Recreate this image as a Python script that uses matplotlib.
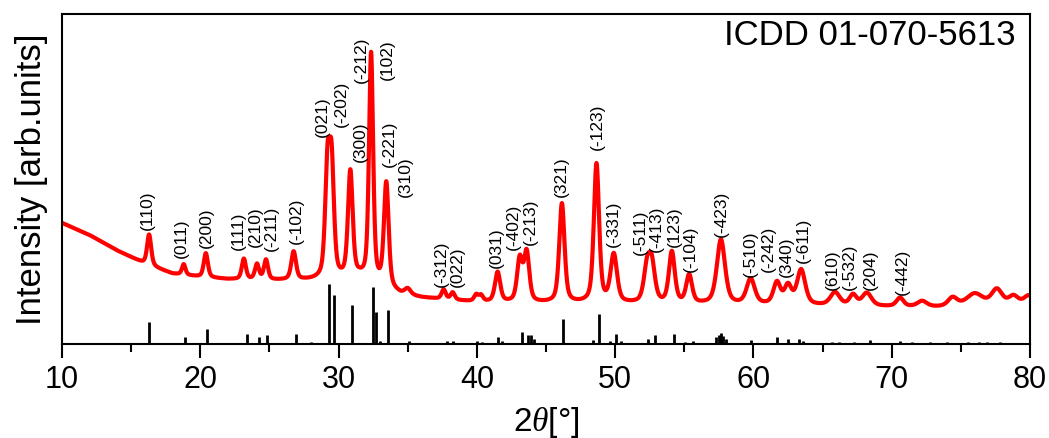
import numpy as np
import matplotlib
matplotlib.use('Agg')
import matplotlib.pyplot as plt

plt.rcParams['font.family'] = 'Liberation Sans'
plt.rcParams['mathtext.fontset'] = 'custom'
plt.rcParams['mathtext.it'] = 'Liberation Serif:italic'
plt.rcParams['mathtext.rm'] = 'Liberation Sans'

# measured pattern: background points + peak list (position, height above bg, FWHM)
bg_x = [10, 12, 14, 16, 18, 20, 22, 25, 28, 30, 31.5, 33, 34.5, 36, 38, 40, 44, 50, 56, 62, 68, 74, 80]
bg_y = [36.7, 33.0, 28.3, 24.3, 21.3, 20.3, 19.6, 19.3, 19.3, 19.5, 20.0, 17.5, 15.0, 14.0, 13.3,
        12.7, 12.4, 12.2, 12.0, 11.8, 11.4, 11.1, 12.0]

peak_pos = [16.3, 18.8, 20.4, 23.15, 24.1, 24.75, 26.75, 29.2, 29.5, 30.85, 32.35, 33.45,
            35.0, 37.6, 38.25, 39.95, 40.3, 41.5, 43.1, 43.6, 46.15, 48.65, 49.9, 52.3, 52.65,
            54.1, 55.35, 57.65, 59.8, 61.7, 62.5, 63.45, 65.9, 67.2, 68.2, 70.6, 72.2, 74.4,
            76.0, 77.6, 78.8, 79.9]
peak_amp = [9.3, 3.2, 7.3, 6.2, 4.6, 6.0, 8.5, 32.5, 32.5, 32.0, 69.0, 31.5,
            1.8, 2.9, 2.2, 2.0, 1.8, 9.0, 12.8, 14.8, 30.0, 42.0, 14.5, 9.9, 11.0,
            15.5, 8.5, 19.5, 7.6, 6.5, 5.5, 10.5, 3.9, 3.2, 3.9, 2.6, 1.7, 2.7,
            3.7, 4.7, 2.5, 2.5]
peak_fwhm = [0.35, 0.3, 0.35, 0.35, 0.35, 0.35, 0.4, 0.4, 0.4, 0.4, 0.35, 0.4,
             0.5, 0.35, 0.35, 0.35, 0.35, 0.45, 0.45, 0.45, 0.45, 0.45, 0.55, 0.55, 0.55,
             0.5, 0.5, 0.7, 0.7, 0.6, 0.6, 0.7, 0.8, 0.6, 0.8, 0.6, 0.8, 0.8,
             1.4, 0.9, 0.8, 0.8]

# ICDD 01-070-5613 reference lines
stick_pos = [16.3, 18.9, 20.5, 23.35, 24.25, 24.85, 26.9, 28.0, 29.28, 29.65, 31.0, 32.47,
             32.7, 33.0, 33.55, 35.1, 37.85, 38.3, 40.0, 40.35, 41.55, 41.8, 43.3, 43.7,
             43.95, 44.15, 46.25, 48.4, 48.83, 49.6, 50.05, 50.4, 52.4, 52.85, 54.25, 55.05,
             55.6, 57.3, 57.5, 57.65, 57.8, 58.0, 59.85, 61.7, 62.5, 63.3, 63.6, 65.7, 66.2,
             67.25, 68.4, 70.6, 71.5, 72.8, 74.0, 75.5, 76.3, 76.9, 77.8]
stick_int = [6.6, 2.0, 4.5, 3.0, 2.0, 2.7, 3.1, 0.5, 18.2, 15.0, 11.9, 17.2,
             9.6, 1.0, 10.3, 0.8, 1.0, 0.8, 1.0, 0.6, 2.2, 0.8, 3.5, 2.8,
             2.8, 1.5, 7.7, 1.2, 9.1, 1.0, 3.0, 1.0, 1.5, 2.7, 3.0, 0.7,
             1.0, 2.0, 2.7, 3.2, 2.5, 1.5, 1.2, 2.0, 1.5, 1.5, 1.0, 0.7, 0.7,
             0.7, 1.2, 0.8, 0.5, 0.5, 0.5, 0.6, 0.6, 0.5, 0.6]

hkl = ['(110)', '(011)', '(200)', '(111)', '(210)', '(-211)', '(-102)', '(021)', '(-202)',
       '(300)', '(-212)', '(102)', '(-221)', '(310)', '(-312)', '(022)', '(031)', '(-402)',
       '(-213)', '(321)', '(-123)', '(-331)', '(-511)', '(-413)', '(123)', '(-104)', '(-423)',
       '(-510)', '(-242)', '(340)', '(-611)', '(610)', '(-532)', '(204)', '(-442)']
hkl_x = [16.2, 18.65, 20.46, 22.75, 23.95, 25.15, 26.97, 28.85, 30.22,
         31.55, 31.67, 33.53, 33.67, 34.8, 37.4, 38.6, 41.43, 42.65,
         43.85, 46.13, 48.7, 49.87, 51.8, 53.0, 54.25, 55.45, 57.65,
         59.75, 61.07, 62.4, 63.6, 65.72, 66.97, 68.47, 70.78]
hkl_y = [34.5, 26.0, 29.0, 28.5, 29.5, 28.3, 30.3, 62.7, 65.8,
         55.2, 79.0, 80.0, 53.7, 44.6, 17.4, 17.4, 22.9, 28.5,
         30.0, 44.6, 58.8, 29.5, 27.0, 28.0, 29.5, 21.9, 32.3,
         20.4, 21.9, 20.4, 24.4, 16.4, 16.4, 16.4, 14.8]

tt = np.linspace(10, 80, 7001)
intensity = np.interp(tt, bg_x, bg_y)
for p, a, w in zip(peak_pos, peak_amp, peak_fwhm):
    lor = 1.0 / (1.0 + ((tt - p) / (w / 2)) ** 2)
    gau = np.exp(-4 * np.log(2) * ((tt - p) / w) ** 2)
    intensity += a * (0.5 * lor + 0.5 * gau)

fig = plt.figure(figsize=(10.49, 4.38), dpi=100)
ax = fig.add_axes([0.0591, 0.2146, 0.9228, 0.7534])

ax.plot(tt, intensity, color='#ff0000', lw=3)
ax.vlines(stick_pos, 0, stick_int, color='black', lw=2)

for lab, x, y in zip(hkl, hkl_x, hkl_y):
    ax.text(x, y, lab, rotation=90, ha='center', va='bottom', fontsize=12.5)

ax.text(0.985, 0.985, 'ICDD 01-070-5613', transform=ax.transAxes,
        ha='right', va='top', fontsize=25)

ax.set_xlim(10, 80)
ax.set_ylim(0, 100)
ax.set_xticks(range(10, 81, 10))
ax.set_xticks(range(15, 80, 10), minor=True)
ax.set_yticks([])
ax.tick_params(axis='x', which='major', direction='out', length=10, width=1.5,
               labelsize=22, pad=5)
ax.tick_params(axis='x', which='minor', direction='out', length=6, width=1.5)
for s in ax.spines.values():
    s.set_linewidth(1.5)

ax.set_xlabel('2$\\theta$[°]', fontsize=24, labelpad=7)
ax.set_ylabel('Intensity [arb.units]', fontsize=25, labelpad=10)

fig.savefig('out.png', dpi=100)
